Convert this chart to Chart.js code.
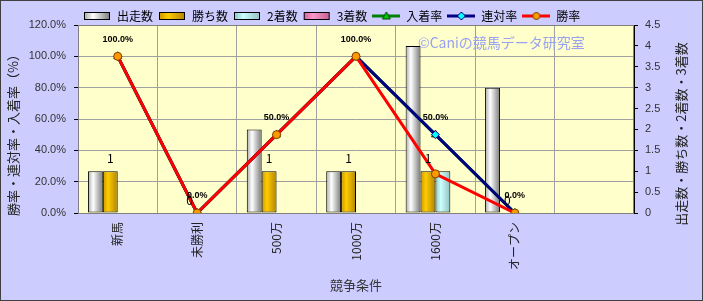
<!DOCTYPE html>
<html>
<head>
<meta charset="utf-8">
<script src="https://cdn.jsdelivr.net/npm/chart.js@4.4.1/dist/chart.umd.min.js"></script>
<style>
    html, body { margin: 0; padding: 0; background: #CCCCFF; }
    #wrap { width: 703px; height: 301px; }
</style>
</head>
<body>
<div id="wrap"><canvas id="raceChart" width="703" height="301"></canvas></div>
<script>
// 競争条件ごとの成績
const categories = ["新馬", "未勝利", "500万", "1000万", "1600万", "オープン", ""];
const starts = [1, 0, 2, 1, 4, 3, null];
const wins = [1, 0, 1, 1, 1, 0, null];
const seconds = [0, 0, 0, 0, 1, 0, null];
const thirds = [0, 0, 0, 0, 0, 0, null];
const placeRate = [100, 0, 50, 100, 50, 0, null];
const rentaiRate = [100, 0, 50, 100, 50, 0, null];
const winRate = [100, 0, 50, 100, 25, 0, null];
const rateTicks = [0, 20, 40, 60, 80, 100, 120];
const countTicks = [0, 0.5, 1, 1.5, 2, 2.5, 3, 3.5, 4, 4.5];

const JP = "'Noto Sans CJK JP', sans-serif";
const CAT_PCT = 0.75;
const BAR_COUNT = 4;

const barColors = [
    ["#A8A8A8", "#FFFFFF", "#7A7A7A"],
    ["#C89600", "#FFCC00", "#B08400"],
    ["#88C4C4", "#CCFFFF", "#90C0C0"],
    ["#C86496", "#FF99CC", "#C06090"]
];

function barFill(colors, k) {
    return (context) => {
        const chart = context.chart;
        const xs = chart.scales.x;
        if (!xs || !isFinite(xs.width) || xs.width <= 0 || context.type !== "data") {
            return colors[1];
        }
        const catW = xs.width / categories.length;
        const group = catW * CAT_PCT;
        const bw = group / BAR_COUNT;
        const cx = xs.getPixelForValue(context.dataIndex);
        const left = cx - group / 2 + k * bw;
        const g = chart.ctx.createLinearGradient(left, 0, left + bw, 0);
        g.addColorStop(0, colors[0]);
        g.addColorStop(0.35, colors[1]);
        g.addColorStop(1, colors[2]);
        return g;
    };
}

function barIcon(colors) {
    const c = document.createElement("canvas");
    c.width = 28; c.height = 10;
    const g = c.getContext("2d");
    const grad = g.createLinearGradient(1, 0, 27, 0);
    grad.addColorStop(0, colors[0]);
    grad.addColorStop(0.35, colors[1]);
    grad.addColorStop(1, colors[2]);
    g.fillStyle = grad;
    g.fillRect(1, 1.5, 26, 7);
    g.strokeStyle = "#000";
    g.lineWidth = 1;
    g.strokeRect(1.5, 1.5, 25, 7);
    return c;
}

function lineIcon(lineColor, marker, fill, border) {
    const c = document.createElement("canvas");
    c.width = 28; c.height = 12;
    const g = c.getContext("2d");
    g.strokeStyle = lineColor;
    g.lineWidth = 3;
    g.beginPath(); g.moveTo(0, 6); g.lineTo(28, 6); g.stroke();
    g.fillStyle = fill;
    g.strokeStyle = border;
    g.lineWidth = 1;
    g.beginPath();
    if (marker === "circle") {
        g.arc(14, 6, 3.5, 0, Math.PI * 2);
    } else if (marker === "diamond") {
        g.moveTo(14, 2); g.lineTo(18, 6); g.lineTo(14, 10); g.lineTo(10, 6); g.closePath();
    } else {
        g.moveTo(14, 2); g.lineTo(18, 9); g.lineTo(10, 9); g.closePath();
    }
    g.fill(); g.stroke();
    return c;
}

const legendIcons = [
    barIcon(barColors[0]), barIcon(barColors[1]), barIcon(barColors[2]), barIcon(barColors[3]),
    lineIcon("#008000", "triangle", "#00CC00", "#004000"),
    lineIcon("#000080", "diamond", "#00FFFF", "#000080"),
    lineIcon("#FF0000", "circle", "#FF9900", "#804000")
];

function drawVerticalTitle(ctx, text, x, y) {
    ctx.save();
    ctx.translate(x, y);
    ctx.rotate(-Math.PI / 2);
    ctx.font = "13px " + JP;
    ctx.fillStyle = "#222";
    ctx.textAlign = "center";
    ctx.textBaseline = "middle";
    ctx.fillText(text, 0, 0);
    ctx.restore();
}

const backgroundPlugin = {
    id: "backgroundPlugin",
    beforeDraw(chart) {
        const { ctx, chartArea } = chart;
        ctx.save();
        ctx.fillStyle = "#CCCCFF";
        ctx.fillRect(0, 0, chart.width, chart.height);
        ctx.fillStyle = "#FFFFCC";
        ctx.fillRect(chartArea.left, chartArea.top, chartArea.right - chartArea.left, chartArea.bottom - chartArea.top);
        ctx.restore();
    },
    afterDatasetsDraw(chart) {
        const ctx = chart.ctx;
        // data labels
        chart.data.datasets.forEach((ds, i) => {
            if (!ds.showLabels) return;
            const meta = chart.getDatasetMeta(i);
            meta.data.forEach((el, j) => {
                const v = ds.data[j];
                if (v === null || v === undefined) return;
                ctx.save();
                ctx.font = ds.labelFont;
                ctx.fillStyle = "#000";
                ctx.textAlign = "center";
                ctx.textBaseline = "middle";
                ctx.fillText(ds.labelFormat(v), el.x, el.y - ds.labelOffset);
                ctx.restore();
            });
        });
        // watermark
        ctx.save();
        ctx.font = "14px " + JP;
        ctx.fillStyle = "#9AA2F2";
        ctx.textBaseline = "middle";
        ctx.fillText("©Caniの競馬データ研究室", 418, 43);
        ctx.restore();
    },
    afterDraw(chart) {
        const { ctx, chartArea } = chart;
        ctx.save();
        ctx.strokeStyle = "#808080";
        ctx.lineWidth = 1;
        ctx.strokeRect(chartArea.left + 0.5, chartArea.top + 0.5, chartArea.right - chartArea.left - 1, chartArea.bottom - chartArea.top);
        ctx.restore();
        // axis titles (both read bottom to top)
        drawVerticalTitle(ctx, "勝率・連対率・入着率（%）", 13, 132);
        drawVerticalTitle(ctx, "出走数・勝ち数・2着数・3着数", 681, 134);
        ctx.save();
        ctx.strokeStyle = "#404040";
        ctx.lineWidth = 1;
        ctx.strokeRect(0.5, 0.5, chart.width - 1, chart.height - 1);
        ctx.restore();
    }
};

function barSet(label, data, k, extra) {
    return Object.assign({
        type: "bar",
        label: label,
        data: data,
        yAxisID: "y1",
        order: 10,
        backgroundColor: barFill(barColors[k], k),
        borderColor: "#000",
        borderWidth: 1,
        borderSkipped: false,
        categoryPercentage: CAT_PCT,
        barPercentage: 1.0
    }, extra || {});
}

const ctx = document.getElementById("raceChart").getContext("2d");
new Chart(ctx, {
    data: {
        labels: categories,
        datasets: [
            barSet("出走数", starts, 0),
            barSet("勝ち数", wins, 1, {
                showLabels: true,
                labelFont: "12px " + JP,
                labelFormat: (v) => String(v),
                labelOffset: 13
            }),
            barSet("2着数", seconds, 2),
            barSet("3着数", thirds, 3),
            {
                type: "line",
                label: "入着率",
                data: placeRate,
                yAxisID: "y",
                order: 3,
                borderColor: "#008000",
                borderWidth: 3,
                pointStyle: "triangle",
                pointRadius: 4.5,
                pointBackgroundColor: "#00CC00",
                pointBorderColor: "#004000",
                pointBorderWidth: 1,
                tension: 0,
                showLabels: true,
                labelFont: "bold 9px 'Liberation Sans', sans-serif",
                labelFormat: (v) => v.toFixed(1) + "%",
                labelOffset: 17
            },
            {
                type: "line",
                label: "連対率",
                data: rentaiRate,
                yAxisID: "y",
                order: 2,
                borderColor: "#000080",
                borderWidth: 3,
                pointStyle: "rectRot",
                pointRadius: 4,
                pointBackgroundColor: "#00FFFF",
                pointBorderColor: "#000080",
                pointBorderWidth: 1,
                tension: 0
            },
            {
                type: "line",
                label: "勝率",
                data: winRate,
                yAxisID: "y",
                order: 1,
                borderColor: "#FF0000",
                borderWidth: 3,
                pointStyle: "circle",
                pointRadius: 4,
                pointBackgroundColor: "#FF9900",
                pointBorderColor: "#804000",
                pointBorderWidth: 1,
                tension: 0
            }
        ]
    },
    options: {
        responsive: false,
        animation: false,
        layout: { padding: { top: 5, left: 0, right: 0, bottom: 0 } },
        plugins: {
            tooltip: { enabled: false },
            legend: {
                display: true,
                position: "top",
                align: "start",
                fullSize: false,
                maxHeight: 20,
                labels: {
                    usePointStyle: true,
                    pointStyleWidth: 28,
                    padding: 5,
                    color: "#333",
                    font: { family: JP, size: 12 },
                    generateLabels: (chart) => chart.data.datasets.map((ds, i) => ({
                        text: ds.label,
                        fillStyle: "transparent",
                        strokeStyle: "transparent",
                        lineWidth: 0,
                        pointStyle: legendIcons[i],
                        hidden: false,
                        datasetIndex: i
                    }))
                }
            }
        },
        scales: {
            x: {
                offset: true,
                afterFit: (scale) => { scale.height = 88; },
                grid: {
                    offset: true,
                    drawTicks: false,
                    color: "#A0A0A0",
                    borderDash: [2, 2]
                },
                border: { display: true, color: "#000", width: 1, dash: [] },
                ticks: {
                    minRotation: 90,
                    maxRotation: 90,
                    autoSkip: false,
                    padding: 9,
                    color: "#222",
                    font: { family: JP, size: 12 }
                },
                title: {
                    display: true,
                    text: "競争条件",
                    color: "#333",
                    padding: { top: 0, bottom: 8 },
                    font: { family: JP, size: 13 }
                }
            },
            y: {
                position: "left",
                min: 0,
                max: 120,
                afterFit: (scale) => { scale.width = 78; },
                afterBuildTicks: (scale) => { scale.ticks = rateTicks.map((v) => ({ value: v })); },
                grid: {
                    color: "#A0A0A0",
                    borderDash: [2, 2],
                    tickLength: 4,
                    tickColor: "#000",
                    tickBorderDash: []
                },
                border: { display: true, color: "#000", width: 1 },
                ticks: {
                    padding: 8,
                    color: "#333",
                    font: { family: "'Liberation Sans', sans-serif", size: 11 },
                    callback: (v) => Number(v).toFixed(1) + "%"
                },
                title: { display: false }
            },
            y1: {
                position: "right",
                min: 0,
                max: 4.5,
                afterFit: (scale) => { scale.width = 69; },
                afterBuildTicks: (scale) => { scale.ticks = countTicks.map((v) => ({ value: v })); },
                grid: {
                    drawOnChartArea: false,
                    tickLength: 4,
                    tickColor: "#000"
                },
                border: { display: true, color: "#000", width: 1 },
                ticks: {
                    padding: 7,
                    color: "#333",
                    font: { family: "'Liberation Sans', sans-serif", size: 11 },
                    callback: (v) => String(v)
                },
                title: { display: false }
            }
        }
    },
    plugins: [backgroundPlugin]
});
</script>
</body>
</html>
